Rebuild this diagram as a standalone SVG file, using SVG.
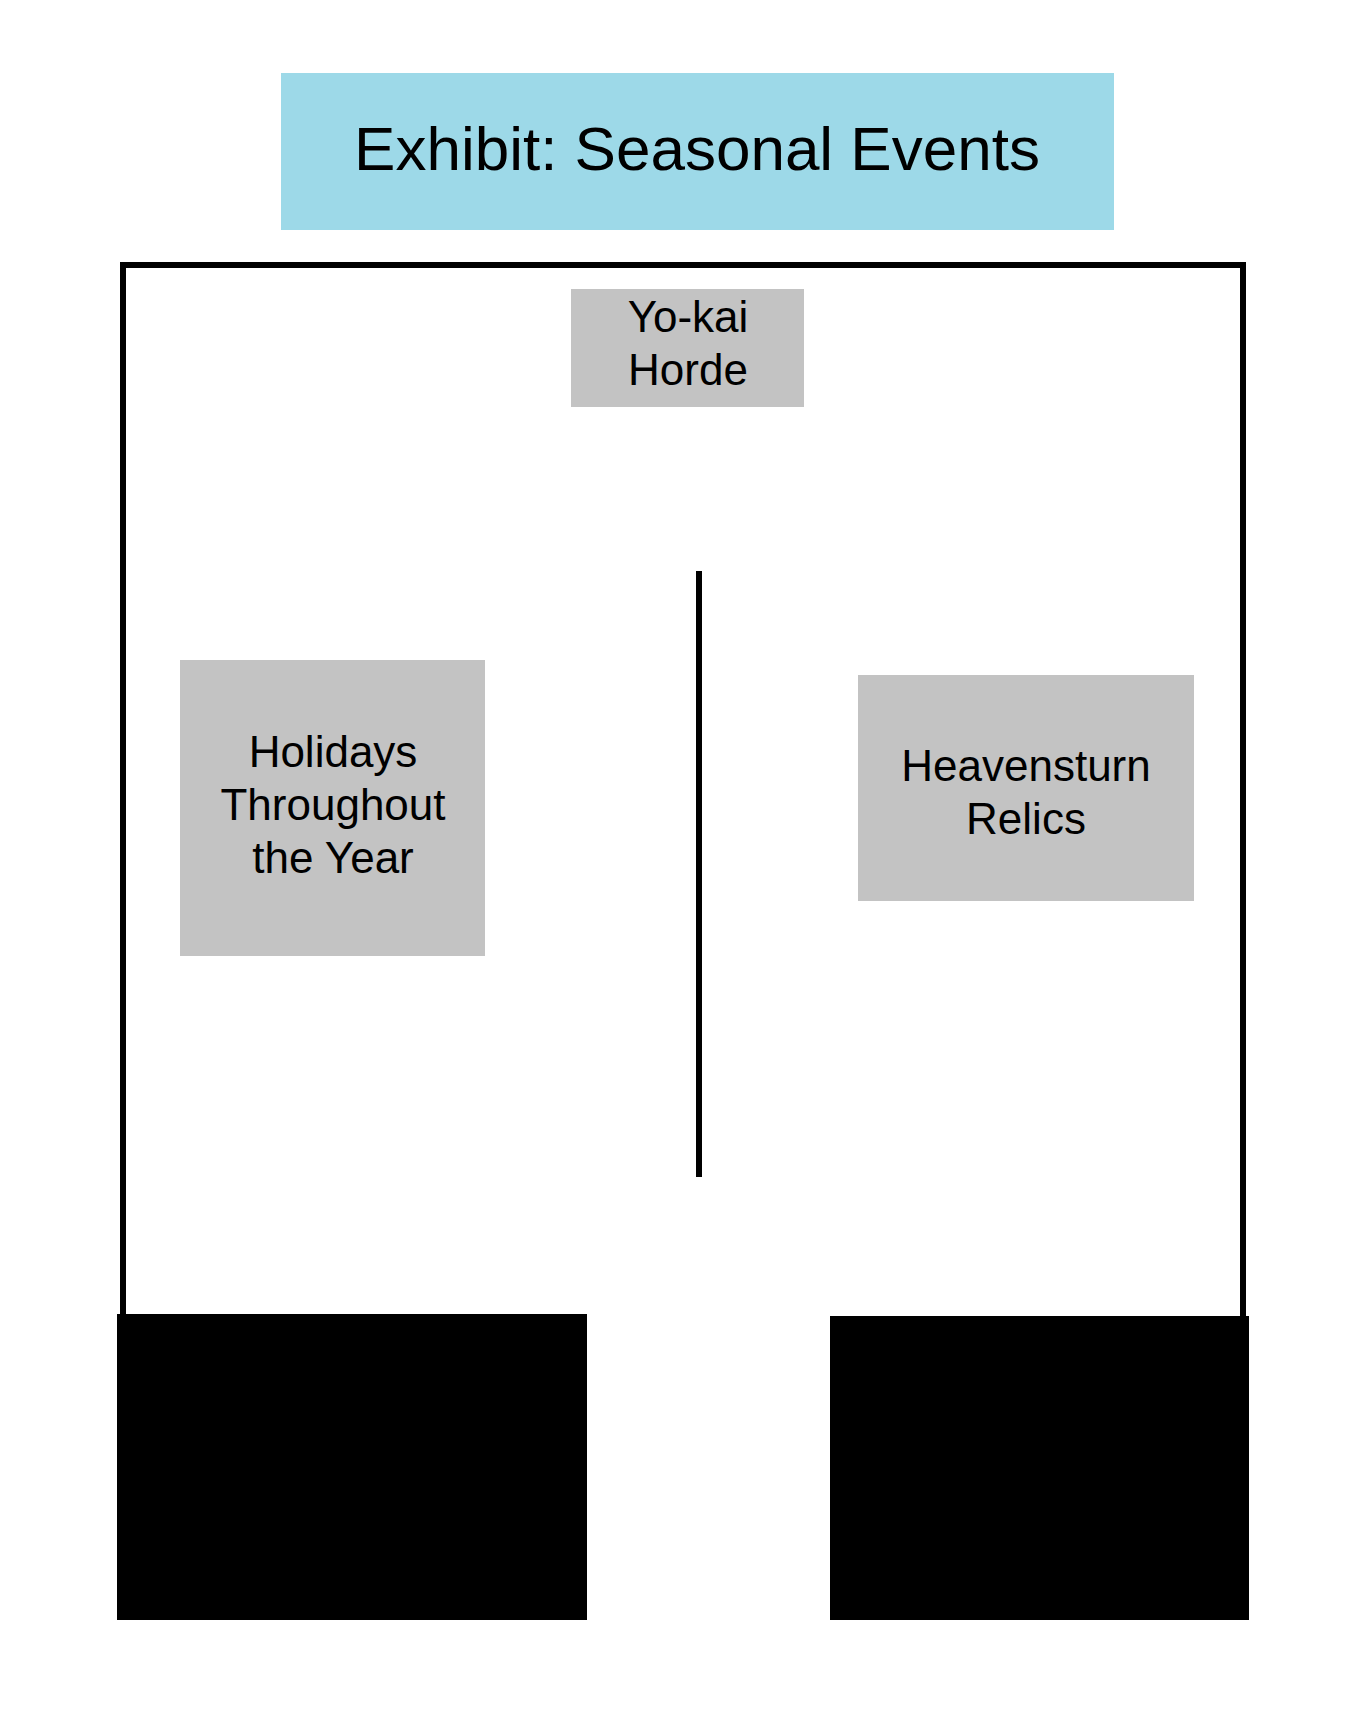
<svg xmlns="http://www.w3.org/2000/svg" width="1365" height="1725" viewBox="0 0 1365 1725">
<style>
text{font-family:"Liberation Sans",Arial,sans-serif;fill:#000;text-anchor:middle}
.room{fill:#c3c3c3}
.lbl{font-size:44px}
</style>
<rect width="1365" height="1725" fill="#fff"/>
<g id="title"><rect x="281" y="73" width="833" height="157" fill="#9dd9e8"/><text x="697" y="170" font-size="62">Exhibit: Seasonal Events</text></g>
<g id="walls" stroke="#000" fill="none">
<path d="M123 1316 V265 H1243 V1316" stroke-width="6"/>
<line x1="699" y1="571" x2="699" y2="1177" stroke-width="6"/>
</g>
<g id="yokai"><rect class="room" x="571" y="289" width="233" height="118"/><text class="lbl" x="688" y="332">Yo-kai</text><text class="lbl" x="688" y="385">Horde</text></g>
<g id="holidays"><rect class="room" x="180" y="660" width="305" height="296"/><text class="lbl" x="333" y="767">Holidays</text><text class="lbl" x="333" y="820">Throughout</text><text class="lbl" x="333" y="873">the Year</text></g>
<g id="heavensturn"><rect class="room" x="858" y="675" width="336" height="226"/><text class="lbl" x="1026" y="781">Heavensturn</text><text class="lbl" x="1026" y="834">Relics</text></g>
<g id="blocks" fill="#000">
<rect x="117" y="1314" width="470" height="306"/>
<rect x="830" y="1316" width="419" height="304"/>
</g>
</svg>
